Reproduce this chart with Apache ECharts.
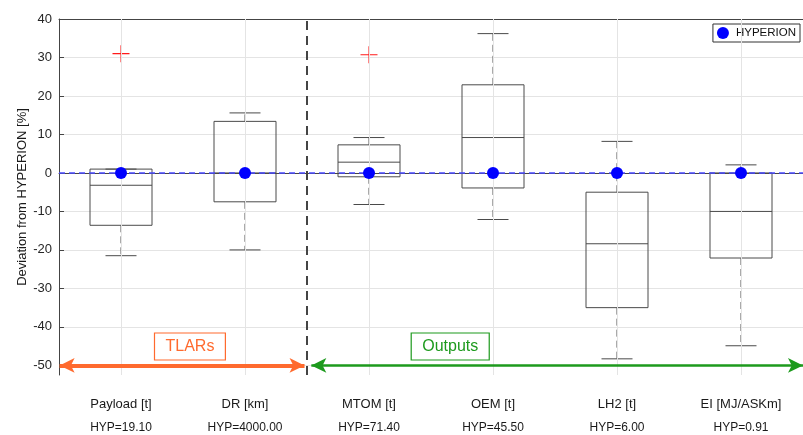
<!DOCTYPE html>
<html>
<head>
<meta charset="utf-8">
<script src="https://cdn.jsdelivr.net/npm/echarts@6/dist/echarts.min.js"></script>
<style>
html, body { margin: 0; padding: 0; background: #fff; }
#chart { width: 803px; height: 435px; }
</style>
</head>
<body>
<div id="chart"></div>
<script>
// Parameters and their HYPERION reference values
const categories = ['Payload [t]', 'DR [km]', 'MTOM [t]', 'OEM [t]', 'LH2 [t]', 'EI [MJ/ASKm]'];
const hypValues = ['19.10', '4000.00', '71.40', '45.50', '6.00', '0.91'];

// Box statistics, deviation in percent
const whiskerLow = [-21.5, -20.0, -8.2, -12.1, -48.3, -44.9];
const quartile1 = [-13.6, -7.5, -1.0, -3.9, -35.0, -22.1];
const medians = [-3.2, 0.0, 2.8, 9.2, -18.4, -10.0];
const quartile3 = [1.0, 13.4, 7.3, 22.9, -5.0, 0.0];
const whiskerHigh = [1.0, 15.6, 9.2, 36.2, 8.2, 2.1];

// Outliers as [category index, value]
const outlierIdx = [0, 2];
const outlierVal = [31.0, 30.7];

// HYPERION reference point for each parameter
const hyperion = [0, 0, 0, 0, 0, 0];

// Axis ticks
const yTicks = [-50, -40, -30, -20, -10, 0, 10, 20, 30, 40];
const xGridPos = [1, 2, 3, 4, 5, 6];

// Section annotations (position on the 1..6 parameter scale)
const groupSplit = 2.5;
const sections = [
  { name: 'TLARs', from: 0.505, to: 2.48, labelX: 1.556, color: '#ff6a2e', width: 4 },
  { name: 'Outputs', from: 2.535, to: 6.5, labelX: 3.655, color: '#1d9a1d', width: 2.5 }
];
const arrowLevel = -50;
const labelLevel = -45.1;

const FONT = '"Liberation Sans", Arial, Helvetica, sans-serif';
const AXIS_COLOR = '#444';
const GRID_COLOR = '#e4e4e4';
const BOX_COLOR = '#4a4a4a';

const boxData = categories.map((c, i) => [i, whiskerLow[i], quartile1[i], medians[i], quartile3[i], whiskerHigh[i]]);

function renderBox(params, api) {
  const i = api.value(0);
  const lo = api.coord([i, api.value(1)]);
  const q1 = api.coord([i, api.value(2)]);
  const md = api.coord([i, api.value(3)]);
  const q3 = api.coord([i, api.value(4)]);
  const hi = api.coord([i, api.value(5)]);
  const band = api.size([1, 0])[0];
  const hw = band * 0.25;
  const cw = band * 0.125;
  const cx = md[0];
  const solid = { stroke: BOX_COLOR, lineWidth: 1, fill: null };
  const dashed = { stroke: '#555', lineWidth: 1, lineDash: [7, 4], fill: null };
  return {
    type: 'group',
    children: [
      { type: 'line', shape: { x1: cx, y1: q3[1], x2: cx, y2: hi[1] }, style: dashed },
      { type: 'line', shape: { x1: cx, y1: q1[1], x2: cx, y2: lo[1] }, style: dashed },
      { type: 'line', shape: { x1: cx - cw, y1: hi[1], x2: cx + cw, y2: hi[1] }, style: solid },
      { type: 'line', shape: { x1: cx - cw, y1: lo[1], x2: cx + cw, y2: lo[1] }, style: solid },
      { type: 'rect', shape: { x: cx - hw, y: q3[1], width: 2 * hw, height: q1[1] - q3[1] }, style: solid },
      { type: 'line', shape: { x1: cx - hw, y1: md[1], x2: cx + hw, y2: md[1] }, style: solid }
    ]
  };
}

const chart = echarts.init(document.getElementById('chart'), null, { renderer: 'canvas' });

chart.setOption({
  animation: false,
  backgroundColor: '#fff',
  textStyle: { fontFamily: FONT },
  grid: { left: 59, top: 19, width: 756, height: 356, containLabel: false },
  legend: {
    data: [{ name: 'HYPERION', icon: 'circle' }],
    right: 3,
    top: 24,
    itemWidth: 12,
    itemHeight: 12,
    padding: [3, 4, 3, 4],
    borderColor: '#333',
    borderWidth: 1,
    backgroundColor: '#fff',
    textStyle: { fontFamily: FONT, fontSize: 11.5, color: '#111', padding: [0, 0, 0, 2] }
  },
  xAxis: [
    {
      type: 'category',
      data: categories,
      position: 'bottom',
      axisLine: { show: true, lineStyle: { color: AXIS_COLOR, width: 1 } },
      axisTick: { show: true, inside: true, alignWithLabel: true, length: 5, interval: 0, lineStyle: { color: AXIS_COLOR } },
      splitLine: { show: false },
      axisLabel: {
        interval: 0,
        margin: 17,
        formatter: (v, i) => '{a|' + v + '}\n{b|HYP=' + hypValues[i] + '}',
        rich: {
          a: { fontFamily: FONT, fontSize: 13, color: '#1a1a1a', lineHeight: 24 },
          b: { fontFamily: FONT, fontSize: 12, color: '#1a1a1a', lineHeight: 24 }
        }
      }
    },
    {
      type: 'value',
      show: false,
      min: 0.5,
      max: 6.5,
      splitLine: { show: false }
    },
    {
      type: 'category',
      data: categories,
      position: 'top',
      axisLine: { show: true, lineStyle: { color: AXIS_COLOR, width: 1 } },
      axisTick: { show: true, inside: true, alignWithLabel: true, length: 5, interval: 0, lineStyle: { color: AXIS_COLOR } },
      axisLabel: { show: false },
      splitLine: { show: false }
    }
  ],
  yAxis: {
    type: 'value',
    min: -52.5,
    max: 40,
    name: 'Deviation from HYPERION [%]',
    nameLocation: 'middle',
    nameGap: 30,
    nameMoveOverlap: false,
    nameTextStyle: { fontFamily: FONT, fontSize: 13, color: '#1a1a1a' },
    axisLine: { show: true, lineStyle: { color: AXIS_COLOR, width: 1 } },
    axisTick: { show: true, inside: true, length: 5, customValues: yTicks, lineStyle: { color: AXIS_COLOR } },
    axisLabel: { customValues: yTicks, margin: 7, fontFamily: FONT, fontSize: 13, color: '#262626' },
    splitLine: { show: true, lineStyle: { color: GRID_COLOR, width: 1 } }
  },
  series: [
    {
      // vertical grid lines at each parameter
      type: 'line',
      xAxisIndex: 1,
      data: [],
      silent: true,
      z: 0,
      markLine: {
        silent: true,
        symbol: ['none', 'none'],
        label: { show: false },
        lineStyle: { color: GRID_COLOR, width: 1, type: 'solid' },
        data: xGridPos.map(v => ({ xAxis: v }))
      }
    },
    {
      type: 'custom',
      name: 'box',
      xAxisIndex: 0,
      renderItem: renderBox,
      encode: { x: 0, y: [1, 2, 3, 4, 5] },
      data: boxData,
      z: 2
    },
    {
      type: 'scatter',
      name: 'outliers',
      xAxisIndex: 0,
      symbol: 'path://M0,7.5H16V8.5H0Z M7.5,0H8.5V16H7.5Z',
      symbolSize: 17,
      itemStyle: { color: '#ff1a1a', opacity: 1 },
      data: outlierIdx.map((c, k) => [c, outlierVal[k]]),
      z: 3
    },
    {
      // zero reference line and group divider
      type: 'line',
      xAxisIndex: 1,
      data: [],
      silent: true,
      z: 4,
      markLine: {
        silent: true,
        symbol: ['none', 'none'],
        label: { show: false },
        data: [
          { yAxis: 0, lineStyle: { color: '#4a4aff', width: 1.6, type: [6, 4] } },
          { xAxis: groupSplit, lineStyle: { color: '#444', width: 2, type: [9, 6] } }
        ]
      }
    },
    {
      // section arrows and their labels
      type: 'line',
      xAxisIndex: 1,
      data: [],
      silent: true,
      z: 4,
      markLine: {
        silent: true,
        symbol: ['arrow', 'arrow'],
        symbolSize: [11, 15],
        label: { show: false },
        data: sections.map(s => [
          { coord: [s.from, arrowLevel], lineStyle: { color: s.color, width: s.width, type: 'solid' }, itemStyle: { color: s.color } },
          { coord: [s.to, arrowLevel] }
        ])
      },
      markPoint: {
        silent: true,
        symbol: 'rect',
        symbolSize: 1,
        itemStyle: { color: 'rgba(0,0,0,0)' },
        data: sections.map(s => ({
          coord: [s.labelX, labelLevel],
          label: {
            show: true,
            position: 'inside',
            formatter: s.name,
            fontFamily: FONT,
            fontSize: 16,
            color: s.color,
            borderColor: s.color,
            borderWidth: 1.2,
            padding: [6, 11, 5, 11]
          }
        }))
      }
    },
    {
      type: 'scatter',
      name: 'HYPERION',
      xAxisIndex: 0,
      symbol: 'circle',
      symbolSize: 12,
      itemStyle: { color: '#0000ff', opacity: 1 },
      data: hyperion.map((v, i) => [i, v]),
      z: 5
    }
  ]
});
</script>
</body>
</html>
